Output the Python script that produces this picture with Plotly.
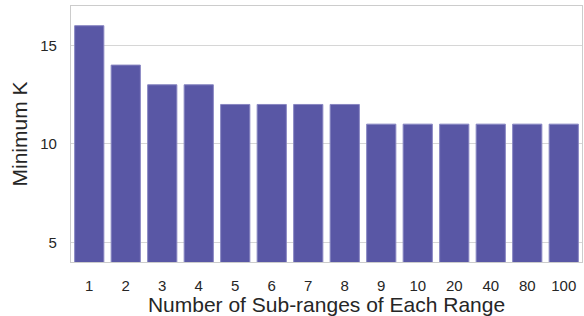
import plotly.graph_objects as go

categories = ["1", "2", "3", "4", "5", "6", "7", "8", "9", "10", "20", "40", "80", "100"]
min_k = [16, 14, 13, 13, 12, 12, 12, 12, 11, 11, 11, 11, 11, 11]

fig = go.Figure(go.Bar(
    x=categories, y=min_k,
    marker=dict(color="#5957a5", line=dict(color="#8886c2", width=1)),
))
fig.update_layout(
    width=584, height=316,
    margin=dict(l=71, r=2, t=6, b=54),
    paper_bgcolor="white", plot_bgcolor="white",
    bargap=0.2,
    font=dict(family="Liberation Sans, Arial, sans-serif", color="#262626"),
    showlegend=False,
)
fig.update_xaxes(
    type="category",
    title=dict(text="Number of Sub-ranges of Each Range", font=dict(size=21), standoff=1),
    tickfont=dict(size=15), ticklabelstandoff=10,
    showgrid=False, ticks="",
    showline=True, linecolor="#cccccc", linewidth=1.25, mirror=True,
)
fig.update_yaxes(
    range=[4, 17],
    tickvals=[5, 10, 15],
    title=dict(text="Minimum K", font=dict(size=21), standoff=6),
    tickfont=dict(size=15), ticklabelstandoff=10,
    showgrid=True, gridcolor="#d6d6d6", gridwidth=1,
    zeroline=False, ticks="",
    showline=True, linecolor="#cccccc", linewidth=1.25, mirror=True,
)
fig.write_html("out.html", config={"displayModeBar": False},
               post_script="document.body.style.margin='0';")
